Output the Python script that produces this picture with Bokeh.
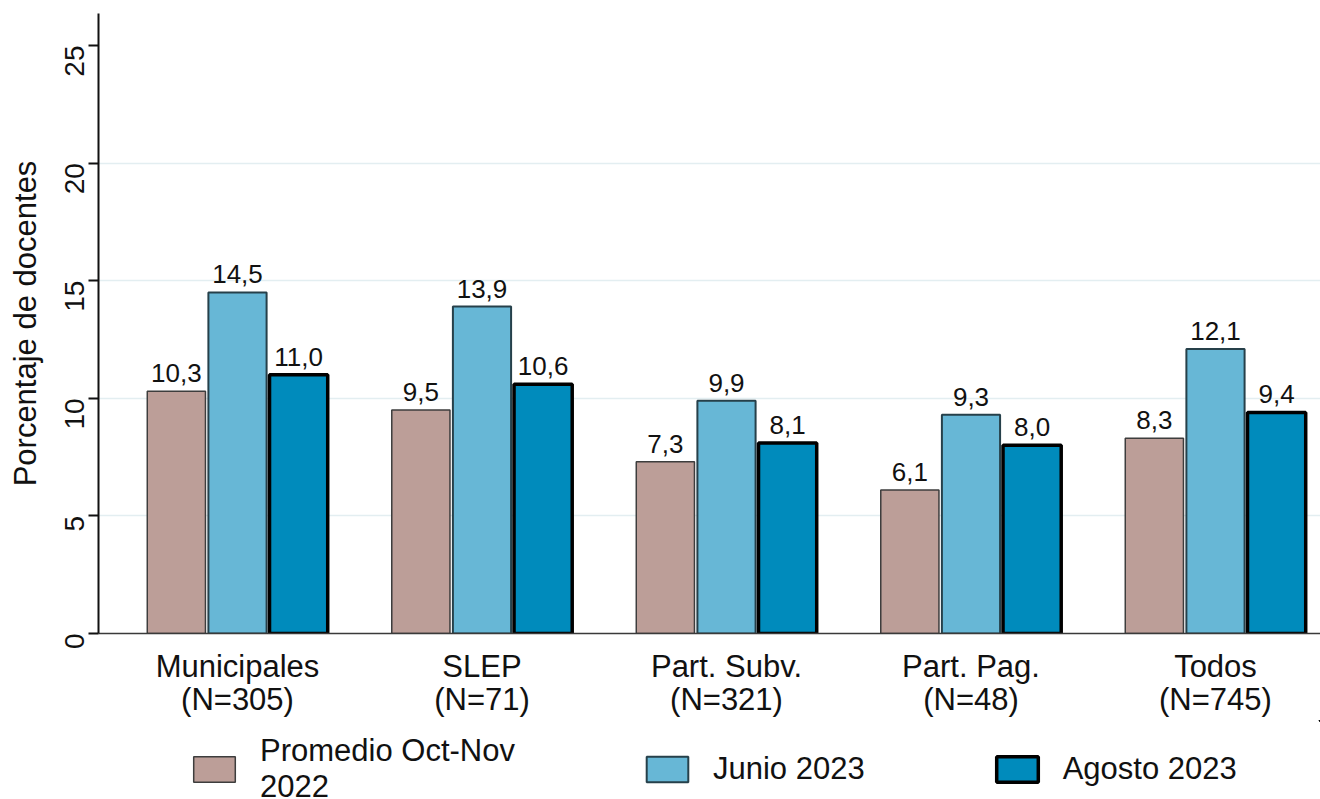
import math
from bokeh.plotting import figure
from bokeh.layouts import column
from bokeh.models import ColumnDataSource, FixedTicker, Legend, LegendItem, Range1d
from bokeh.transform import dodge
from bokeh.core.properties import value
from bokeh.embed import file_html
from bokeh.resources import INLINE

categories = ["Municipales", "SLEP", "Part. Subv.", "Part. Pag.", "Todos"]
sample_sizes = ["305", "71", "321", "48", "745"]
series_names = ["Promedio Oct-Nov\n2022", "Junio 2023", "Agosto 2023"]
promedio_2022 = [10.3, 9.5, 7.3, 6.1, 8.3]
junio_2023 = [14.5, 13.9, 9.9, 9.3, 12.1]
agosto_2023 = [11.0, 10.6, 8.1, 8.0, 9.4]
y_ticks = [0, 5, 10, 15, 20, 25]

FONT = "Liberation Sans"

def fmt(v):
    return f"{v:.1f}".replace(".", ",")

idx = list(range(len(categories)))
source = ColumnDataSource(data=dict(
    x=idx,
    promedio=promedio_2022,
    junio=junio_2023,
    agosto=agosto_2023,
    promedio_lbl=[fmt(v) for v in promedio_2022],
    junio_lbl=[fmt(v) for v in junio_2023],
    agosto_lbl=[fmt(v) for v in agosto_2023],
))

p = figure(width=1320, height=720, output_backend="svg", toolbar_location=None,
           x_range=Range1d(-0.5685, 4.4295), y_range=Range1d(0, 26.36),
           min_border_top=13, min_border_right=0, min_border_left=98,
           min_border_bottom=86)
p.outline_line_color = None
p.background_fill_color = "white"
p.border_fill_color = "white"

specs = [
    ("promedio", -0.25, "#bc9e98", "#3d3d3d", 1.5),
    ("junio", 0.0, "#67b7d6", "#26404a", 2.0),
    ("agosto", 0.25, "#008bbc", "#000000", 3.5),
]
for col, off, fill, line, lw in specs:
    p.vbar(x=dodge("x", off, range=p.x_range), top=col, width=0.238, bottom=0,
           source=source, fill_color=fill, line_color=line, line_width=lw)
    p.text(x=dodge("x", off, range=p.x_range), y=col, text=col + "_lbl", source=source,
           text_align="center", text_baseline="bottom", y_offset=-9,
           text_font=value(FONT), text_font_size="26px", text_color="#111111")

# axes
p.xaxis.ticker = FixedTicker(ticks=idx)
p.xaxis.major_label_overrides = {i: f"{c}\n(N={n})" for i, c, n in zip(idx, categories, sample_sizes)}
p.xaxis.major_tick_line_color = None
p.xaxis.minor_tick_line_color = None
p.xaxis.major_tick_out = 0
p.xaxis.major_label_standoff = 15
p.xaxis.major_label_text_font = FONT
p.xaxis.major_label_text_font_size = "31px"
p.xaxis.major_label_text_color = "#111111"
p.xaxis.major_label_text_line_height = 0.97
p.xaxis.axis_line_color = "#3a3a3a"
p.xaxis.axis_line_width = 1.5

p.yaxis.ticker = FixedTicker(ticks=y_ticks)
p.yaxis.minor_tick_line_color = None
p.yaxis.major_tick_out = 10
p.yaxis.major_tick_in = 0
p.yaxis.major_tick_line_color = "#111111"
p.yaxis.major_tick_line_width = 2
p.yaxis.axis_line_color = "#111111"
p.yaxis.axis_line_width = 2
p.yaxis.major_label_orientation = math.pi / 2
p.yaxis.major_label_standoff = 14
p.yaxis.major_label_text_font = FONT
p.yaxis.major_label_text_font_size = "28px"
p.yaxis.major_label_text_color = "#111111"
p.yaxis.axis_label = "Porcentaje de docentes"
p.yaxis.axis_label_text_font = FONT
p.yaxis.axis_label_text_font_size = "31px"
p.yaxis.axis_label_text_font_style = "normal"
p.yaxis.axis_label_text_color = "#111111"
p.yaxis.axis_label_standoff = 10

p.xgrid.grid_line_color = None
p.ygrid.ticker = FixedTicker(ticks=[5, 10, 15, 20])
p.ygrid.grid_line_color = "#e3eef1"
p.ygrid.grid_line_width = 1.5

# legend strip below the chart: its renderers are degenerate (zero size) and out of view,
# they only supply the legend swatches' styles
lg = figure(width=1320, height=79, output_backend="svg", toolbar_location=None,
            x_range=Range1d(-101, -100), y_range=Range1d(-101, -100),
            min_border=0, x_axis_location=None, y_axis_location=None)
lg.outline_line_color = None
lg.grid.visible = False
legend_renderers = []
for col, off, fill, line, lw in specs:
    legend_renderers.append(lg.vbar(x="x", top=col, bottom=col, width=0, source=source,
                                    fill_color=fill, line_color=line, line_width=lw))

legend = Legend(items=[LegendItem(label=n, renderers=[r]) for n, r in zip(series_names, legend_renderers)],
                orientation="horizontal", location=(90, -6))
legend.padding = 0
legend.margin = 0
legend.spacing = 126
legend.glyph_width = 52
legend.glyph_height = 32
legend.label_standoff = 20
legend.label_text_font = FONT
legend.label_text_font_size = "31px"
legend.label_text_color = "#111111"
legend.label_text_line_height = 0.97
legend.border_line_color = None
legend.background_fill_alpha = 0
lg.add_layout(legend, "center")

layout = column(p, lg, spacing=0)
open("out.html", "w").write(file_html(layout, INLINE))
